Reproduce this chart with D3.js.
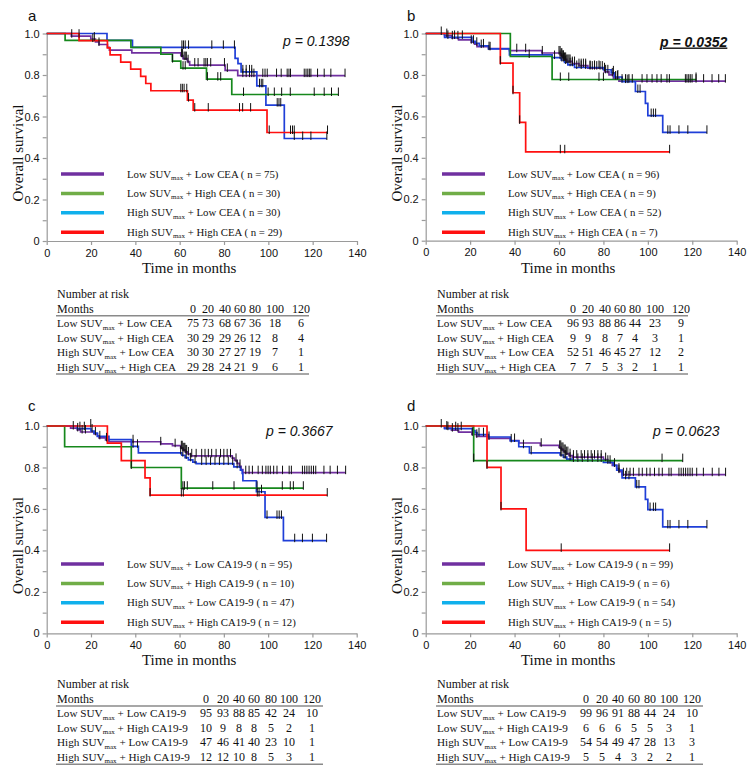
<!DOCTYPE html>
<html>
<head>
<meta charset="utf-8">
<script src="https://cdn.jsdelivr.net/npm/d3@7"></script>
<style>
  body { margin: 0; background: #fff; }
  text { font-family: "Liberation Serif", "Times New Roman", serif; fill: #111; }
  .sans, .axis text { font-family: "Liberation Sans", Arial, sans-serif; }
</style>
</head>
<body>
<div id="chart"></div>
<script>
// ---- data ----
const suvLevel = ["Low", "Low", "High", "High"];
const markerLevel = ["Low", "High", "Low", "High"];
const riskMonths = [0, 20, 40, 60, 80, 100, 120];
const pValues = ["0.1398", "0.0352", "0.3667", "0.0623"];

// panel a : SUVmax + CEA
const aLowLowSteps = [[11.1,0.987],[19.9,0.973],[22,0.96],[23.6,0.947],[27.4,0.933],[28.3,0.92],[38.4,0.907],[60.5,0.893],[61.5,0.879],[63.5,0.864],[64.5,0.848],[80.5,0.822],[86.2,0.797]];
const aLowLowCens = [11.3,14.6,21.5,23.6,60.8,61.3,62,62.5,63,63.8,66.8,68.3,71,71.8,72.5,74,80.2,81.5,88.5,90,91.5,92.5,93.5,97.5,98.5,99.5,103.7,105.8,108.5,109.3,110,116.2,117,117.8,118.5,119.2,122.2,125.2,128.2,134.6];
const aLowHighSteps = [[8.3,0.967],[38,0.933],[51.5,0.9],[56.7,0.867],[60.5,0.833],[72.1,0.78],[83.5,0.706]];
const aLowHighCens = [56.8,61.5,62.5,72.5,77.2,78.5,88.8,99.9,102.7,106,109.9,120.7,125.2,128.5,131.6];
const aHighLowSteps = [[27.2,0.967],[38.7,0.933],[85,0.88],[86.3,0.855],[87.7,0.815],[94.8,0.748],[98.9,0.655],[107.2,0.494]];
const aHighLowCens = [61,61.7,62.5,64,74.5,79.7,84.7,88.5,90,91.5,92.5,96,96.8,97.5,104,104.8,105.6,111.7,115.5,119.2,126.4];
const aHighHighSteps = [[14.6,0.966],[27.4,0.931],[28.6,0.897],[33.4,0.862],[37.9,0.828],[42.4,0.793],[44.7,0.759],[47,0.724],[63.5,0.679],[66.1,0.631],[99.4,0.523]];
const aHighHighCens = [20.8,60.5,61.2,62,63.2,64,66.8,72.9,87,88.4,92,100.4,110,110.9,111.7,126.7];
const aEnds = [134.6, 131.6, 126.4, 126.7];
const aN = [75, 30, 30, 29];
const aRisk = [[75,73,68,67,36,18,6],[30,29,29,26,12,8,4],[30,30,27,27,19,7,1],[29,28,24,21,9,6,1]];

// panel b : SUVmax + CEA
const bLowLowSteps = [[8.5,0.99],[11.8,0.979],[14.8,0.969],[20.5,0.958],[22,0.948],[23.1,0.937],[28.3,0.927],[37.7,0.917],[52.3,0.906],[60.6,0.895],[61.5,0.885],[62.5,0.875],[63.5,0.865],[66,0.855],[69,0.845],[73,0.833],[80.5,0.815],[82.5,0.8],[84.5,0.785],[87,0.77]];
const bLowLowCens = [7,9.5,12,14.5,20.5,21.5,23,25,28.5,41,45,52.5,60,60.5,61,61.3,61.7,62,62.5,63,63.5,64,64.5,65,66,67,69,70,71,72,74,75,76,77,78.5,79.5,81,82,84,85.5,86.3,88.4,90,91.5,93,97.4,99.6,101.9,104.1,106,108.6,109.7,116.9,117.6,118.4,119.1,119.9,121.7,125.1,128.9,131.9,134.9];
const bLowHighSteps = [[38.1,0.889],[56.9,0.778]];
const bLowHighCens = [46.6,60.6,64.4,78,80,121.7];
const bHighLowSteps = [[8.5,0.981],[20.8,0.962],[22.4,0.953],[24.1,0.94],[28.3,0.926],[37.7,0.897],[56.9,0.884],[61,0.872],[62.5,0.86],[64,0.849],[67,0.836],[80,0.825],[83.5,0.81],[85,0.79],[88.4,0.768],[94.4,0.72],[98.9,0.663],[100,0.604],[106.7,0.523]];
const bHighLowCens = [10,13,16.5,26,29,58,60.5,61.3,62,63,65,66,68,70,72,74,76,78,80.5,84.5,86.5,90,91,95.5,96.5,101.5,102.5,103.5,109,110,114,118,126.6];
const bHighHighSteps = [[33.6,0.857],[39.3,0.714],[42.3,0.571],[45,0.429]];
const bHighHighCens = [33.6,39.3,42.3,60.6,62.6,109.8];
const bEnds = [135, 121.7, 126.6, 109.8];
const bN = [96, 9, 52, 7];
const bRisk = [[96,93,88,86,44,23,9],[9,9,8,7,4,3,1],[52,51,46,45,27,12,2],[7,7,5,3,2,1,1]];

// panel c : SUVmax + CA19-9
const cLowLowSteps = [[10.8,0.99],[13.8,0.981],[15.3,0.971],[21.4,0.962],[22.9,0.952],[23.6,0.943],[26.6,0.933],[28.1,0.924],[51.5,0.914],[56.8,0.905],[60.5,0.895],[61.5,0.885],[62.5,0.875],[63.5,0.865],[65,0.856],[83.8,0.845],[84.8,0.834],[86,0.82],[87,0.805],[87.8,0.79],[88.6,0.775]];
const cLowLowCens = [12,14,16,17.5,22,24,27,39,51.5,58,60.8,61.2,61.6,62,62.4,62.8,63.2,64,65.5,67.5,70,71.5,73,74.5,76.5,78.5,80,81.5,83,85.5,87.3,89.9,91.4,92.9,95.5,97.4,99,100,101,102.5,104,106.5,109.5,110.5,115.5,116.5,117.5,118.5,119.5,120.5,121.5,125.2,128,131.3,135];
const cLowHighSteps = [[8.1,0.9],[38.2,0.8],[60.8,0.7]];
const cLowHighCens = [38.2,61.5,62.2,63.5,75,84.6,95,106.4,110,111.4,115.9];
const cHighLowSteps = [[13.8,0.987],[20,0.976],[21.4,0.966],[22.9,0.95],[28.1,0.934],[38.2,0.902],[41.4,0.87],[61,0.859],[62.5,0.848],[64,0.837],[66,0.826],[67.5,0.819],[84.5,0.803],[87.5,0.787],[88.3,0.771],[88.6,0.736],[94.7,0.683],[98.6,0.559],[106.9,0.447]];
const cHighLowCens = [15,17,20.5,39,41,60.5,61.5,63,65,67,70,72,74,76,78,80,82,84,86,97,99.5,104,105,106,112,115.5,120,126.4];
const cHighHighSteps = [[27.4,0.917],[33.7,0.833],[44.4,0.75],[46.7,0.667]];
const cHighHighCens = [19.9,46.7,60.8,61.7,95.1,95.9,126.7];
const cEnds = [135, 115.9, 126.4, 126.7];
const cN = [95, 10, 47, 12];
const cRisk = [[95,93,88,85,42,24,10],[10,9,8,8,5,2,1],[47,46,41,40,23,10,1],[12,12,10,8,5,3,1]];

// panel d : SUVmax + CA19-9
const dLowLowSteps = [[8.5,0.99],[11.6,0.98],[14.8,0.97],[20.8,0.96],[22.9,0.95],[28.3,0.94],[38.1,0.93],[41.9,0.918],[51.6,0.907],[60,0.897],[61,0.887],[62,0.877],[63,0.867],[64.5,0.857],[66,0.85],[80,0.838],[82,0.825],[84,0.81],[86,0.795],[87,0.78],[88.4,0.765]];
const dLowLowCens = [7,9.5,12,14.5,21,23,28.5,40,52,60.3,60.8,61.3,61.8,62.3,62.8,63.3,64,65,66.5,68,70,71.5,73,74.5,76,77.5,79,81,83,85,87,89,90.5,92,93.5,96,97.5,99.5,101,103,105,106.5,109.5,110.5,114,115,116,117,118,119,120,122,125,129,132,135];
const dLowHighSteps = [[21.6,0.833]];
const dLowHighCens = [21.6,106.4,115.7];
const dHighLowSteps = [[8.5,0.987],[21,0.978],[22.2,0.968],[23.1,0.958],[28.3,0.947],[38.1,0.928],[41.9,0.9],[46.7,0.87],[60.5,0.86],[62,0.85],[63.5,0.84],[66,0.834],[80,0.825],[84.5,0.81],[86,0.787],[88.4,0.75],[94.4,0.706],[98.9,0.646],[100,0.597],[106.7,0.513]];
const dHighLowCens = [10,13.5,16,24,26,38.5,44,47.5,60.8,61.3,62.3,63,65,66.5,68.5,70.5,73,75,77.5,79,82,85,87,90,91.5,95,96,101,102.5,103.5,109,110,114,118,126.6];
const dHighHighSteps = [[27.6,0.8],[33.9,0.6],[45.2,0.4]];
const dHighHighCens = [27.6,33.9,61,109.8];
const dEnds = [135, 115.7, 126.6, 109.8];
const dN = [99, 6, 54, 5];
const dRisk = [[99,96,91,88,44,24,10],[6,6,6,5,5,3,1],[54,54,49,47,28,13,3],[5,5,4,3,2,2,1]];

// ---- colours ----
const curveColors = ["#7030a0", "#16881c", "#1f3fd8", "#ff1010"];
const legendColors = ["#7030a0", "#70ad47", "#10b0ec", "#ff1010"];
const drawOrder = [0, 2, 1, 3];

// ---- layout ----
const panels = [
  { letter: "a", marker: "CEA", x0: 46.7, x1: 357, yTop: 33.5, yBot: 241, letterX: 28, letterY: 20.5, pX: 283, pY: 46, bold: false,
    steps: [aLowLowSteps, aLowHighSteps, aHighLowSteps, aHighHighSteps], cens: [aLowLowCens, aLowHighCens, aHighLowCens, aHighHighCens],
    ends: aEnds, n: aN, risk: aRisk, legY: 174, legX: 61, tabX: 57, tabY: 298, tabEnd: 309, cols: [193,208,225,240,255,275,301] },
  { letter: "b", marker: "CEA", x0: 425.7, x1: 736.7, yTop: 33.5, yBot: 240.7, letterX: 407, letterY: 20.5, pX: 660, pY: 46.5, bold: true,
    steps: [bLowLowSteps, bLowHighSteps, bHighLowSteps, bHighHighSteps], cens: [bLowLowCens, bLowHighCens, bHighLowCens, bHighHighCens],
    ends: bEnds, n: bN, risk: bRisk, legY: 174, legX: 442, tabX: 437, tabY: 298, tabEnd: 688, cols: [573,588,605,620,635,655,681] },
  { letter: "c", marker: "CA19-9", x0: 46.7, x1: 356.7, yTop: 426, yBot: 633.4, letterX: 28, letterY: 410.7, pX: 266, pY: 436, bold: false,
    steps: [cLowLowSteps, cLowHighSteps, cHighLowSteps, cHighHighSteps], cens: [cLowLowCens, cLowHighCens, cHighLowCens, cHighHighCens],
    ends: cEnds, n: cN, risk: cRisk, legY: 564, legX: 61, tabX: 57, tabY: 688.3, tabEnd: 323, cols: [206,223,239,254,271,289,312] },
  { letter: "d", marker: "CA19-9", x0: 425.7, x1: 736.7, yTop: 426, yBot: 633.3, letterX: 407, letterY: 411, pX: 653, pY: 436, bold: false,
    steps: [dLowLowSteps, dLowHighSteps, dHighLowSteps, dHighHighSteps], cens: [dLowLowCens, dLowHighCens, dHighLowCens, dHighHighCens],
    ends: dEnds, n: dN, risk: dRisk, legY: 564, legX: 442, tabX: 437, tabY: 688.3, tabEnd: 703, cols: [586,602,618,634,650,669,692] }
];

const svg = d3.select("#chart").append("svg")
  .attr("width", 750)
  .attr("height", 771);

function survAt(steps, t) {
  let s = 1;
  steps.forEach(d => { if (d[0] <= t) s = d[1]; });
  return s;
}

// "Low SUVmax + High CEA" with a subscript
function groupLabel(sel, i, marker, sub) {
  sel.append("tspan").text(suvLevel[i] + " SUV");
  sel.append("tspan").attr("font-size", sub).attr("dy", 2.5).text("max");
  sel.append("tspan").attr("dy", -2.5).text(" + " + markerLevel[i] + " " + marker);
}

function drawPanel(p, k) {
  const g = svg.append("g");
  const x = d3.scaleLinear().domain([0, 140]).range([p.x0, p.x1]);
  const y = d3.scaleLinear().domain([0, 1]).range([p.yBot, p.yTop]);

  // axes
  const ax = g.append("g")
    .attr("class", "axis")
    .attr("transform", `translate(0,${p.yBot})`)
    .call(d3.axisBottom(x).tickValues(d3.range(0, 141, 20)).tickSize(4).tickSizeOuter(0).tickPadding(4));
  const ay = g.append("g")
    .attr("class", "axis")
    .attr("transform", `translate(${p.x0},0)`)
    .call(d3.axisLeft(y).tickValues(d3.range(0, 11).map(d => d / 10)).tickSize(4).tickSizeOuter(0).tickPadding(3)
      .tickFormat(d => d === 0 ? "0" : (Math.round(d * 10) % 2 === 0 ? d3.format(".1f")(d) : "")));
  [ax, ay].forEach(a => {
    a.selectAll("path, line").attr("stroke", "#9a9a9a").attr("stroke-width", 1.2);
    a.selectAll("text").attr("font-size", 11).attr("fill", "#222");
  });

  // axis titles
  g.append("text")
    .attr("x", p.x0 + 142.5)
    .attr("y", p.yBot + 32)
    .attr("text-anchor", "middle")
    .attr("font-size", 15)
    .text("Time in months");
  g.append("text")
    .attr("transform", `translate(${p.x0 - 24},${p.yTop + 119.5}) rotate(-90)`)
    .attr("text-anchor", "middle")
    .attr("font-size", 15)
    .text("Overall survival");

  g.append("text")
    .attr("class", "sans")
    .attr("x", p.letterX)
    .attr("y", p.letterY)
    .attr("font-size", 15)
    .text(p.letter);

  // p value
  g.append("text")
    .attr("class", "sans")
    .attr("x", p.pX)
    .attr("y", p.pY)
    .attr("font-size", 14)
    .attr("font-style", "italic")
    .attr("font-weight", p.bold ? "bold" : "normal")
    .attr("text-decoration", p.bold ? "underline" : null)
    .text("p = " + pValues[k]);

  // curves
  const line = d3.line()
    .x(d => x(d[0]))
    .y(d => y(d[1]))
    .curve(d3.curveStepAfter);

  drawOrder.forEach(i => {
    const steps = p.steps[i];
    const pts = [[0, 1]].concat(steps);
    pts.push([p.ends[i], steps[steps.length - 1][1]]);
    g.append("path")
      .datum(pts)
      .attr("fill", "none")
      .attr("stroke", curveColors[i])
      .attr("stroke-width", 1.7)
      .attr("d", line);
  });

  // censor ticks
  drawOrder.forEach(i => {
    g.selectAll(null)
      .data(p.cens[i])
      .enter()
      .append("line")
        .attr("x1", d => x(d))
        .attr("x2", d => x(d))
        .attr("y1", d => y(survAt(p.steps[i], d)) - 7)
        .attr("y2", d => y(survAt(p.steps[i], d)) + 1.5)
        .attr("stroke", "#111")
        .attr("stroke-width", 1);
  });

  // legend
  const leg = g.append("g");
  [0, 1, 2, 3].forEach(i => {
    const ly = p.legY + i * 19.4;
    leg.append("line")
      .attr("x1", p.legX)
      .attr("x2", p.legX + 43)
      .attr("y1", ly)
      .attr("y2", ly)
      .attr("stroke", legendColors[i])
      .attr("stroke-width", 3.5);
    const t = leg.append("text")
      .attr("x", p.legX + 66)
      .attr("y", ly + 3.5)
      .attr("font-size", 10.8);
    groupLabel(t, i, p.marker, 7);
    t.append("tspan").text(" ( n = " + p.n[i] + ")");
  });

  // number at risk table
  const tab = g.append("g").attr("font-size", 12);
  tab.append("text").attr("x", p.tabX).attr("y", p.tabY).text("Number at risk");
  tab.append("text").attr("x", p.tabX).attr("y", p.tabY + 14.5).text("Months");
  tab.selectAll(null)
    .data(riskMonths)
    .enter()
    .append("text")
      .attr("x", (d, j) => p.cols[j])
      .attr("y", p.tabY + 14.5)
      .attr("text-anchor", "middle")
      .text(d => d);
  [p.tabY + 17.7, p.tabY + 76].forEach(ly => {
    tab.append("line")
      .attr("x1", p.tabX - 1)
      .attr("x2", p.tabEnd)
      .attr("y1", ly)
      .attr("y2", ly)
      .attr("stroke", "#8a8a8a")
      .attr("stroke-width", 1.6);
  });
  p.risk.forEach((row, i) => {
    const ry = p.tabY + 29 + i * 14.5;
    const t = tab.append("text").attr("x", p.tabX).attr("y", ry).attr("font-size", 11.2);
    groupLabel(t, i, p.marker, 7);
    tab.selectAll(null)
      .data(row)
      .enter()
      .append("text")
        .attr("x", (d, j) => p.cols[j])
        .attr("y", ry)
        .attr("text-anchor", "middle")
        .text(d => d);
  });
}

panels.forEach(drawPanel);
</script>
</body>
</html>
